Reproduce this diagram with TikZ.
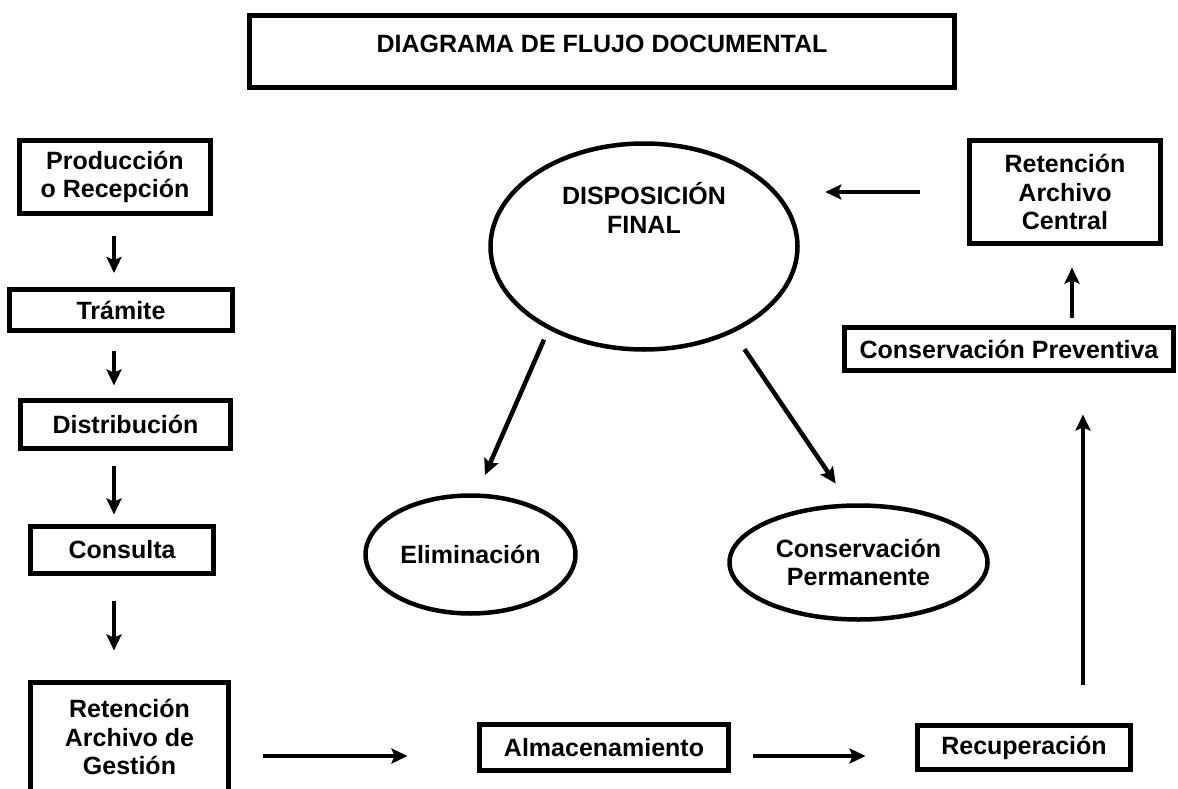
\documentclass[tikz,border=0pt]{standalone}
\usepackage{fontspec}
\setmainfont{Liberation Sans}
\usetikzlibrary{shapes.geometric,arrows.meta}

\begin{document}
\begin{tikzpicture}[x=1pt, y=-1pt,
    caja/.style={draw, line width=5pt, align=center, inner sep=0pt},
    ovalo/.style={draw, ellipse, line width=4.5pt, align=center, inner sep=0pt},
    flecha/.style={line width=4.5pt, -{Stealth[length=16pt,width=15pt,inset=3pt]}},
    font=\fontsize{25}{28.5}\selectfont\bfseries]
    \useasboundingbox (0,0) rectangle (1178,789);
    % Titulo
    \node[caja, minimum width=705pt, minimum height=72pt] (titulo) at (602,51.5) {};
    \node (titulotxt) at (602,44) {DIAGRAMA DE FLUJO DOCUMENTAL};

    % Columna izquierda
    \node[caja, minimum width=191pt, minimum height=73pt] (prod) at (115,177) {Producción\\o Recepción};
    \node[caja, minimum width=223pt, minimum height=41pt] (tram) at (121,310) {Trámite};
    \node[caja, minimum width=210pt, minimum height=48pt] (dist) at (125.5,424.5) {Distribución};
    \node[caja, minimum width=183pt, minimum height=47pt] (cons) at (122,550) {Consulta};
    \node[caja, minimum width=198pt, minimum height=109pt] (gest) at (129.5,737) {Retención\\Archivo de\\Gestión};

    % Fila de abajo y columna derecha
    \node[caja, minimum width=249pt, minimum height=46pt] (alm) at (604,747.5) {Almacenamiento};
    \node[caja, minimum width=213pt, minimum height=44pt] (recu) at (1024,747.5) {Recuperación};
    \node[caja, minimum width=329pt, minimum height=43pt] (prev) at (1009,349) {Conservación Preventiva};
    \node[caja, minimum width=191pt, minimum height=103pt] (cent) at (1065,192) {Retención\\Archivo\\Central};

    % Disposicion final
    \node[ovalo, minimum width=307pt, minimum height=206pt] (disp) at (644,246.5) {};
    \node[align=center] (disptxt) at (644,208) {DISPOSICIÓN\\FINAL};
    \node[ovalo, minimum width=210pt, minimum height=118pt] (elim) at (470.5,554.5) {Eliminación};
    \node[ovalo, minimum width=258pt, minimum height=114pt] (perm) at (858.5,562.5) {Conservación\\Permanente};

    % Flechas
    \coordinate (colx) at (114,0); \coordinate (fila) at (0,756);
    \coordinate (colr) at (1083,0); \coordinate (colc) at (1072,0);
    \foreach \ini/\fin/\si/\sf in {prod/tram/20/14, tram/dist/17.5/12.5, dist/cons/14.5/9.5, cons/gest/24.5/29.5}
        \draw[flecha, shorten <=\si pt, shorten >=\sf pt] (\ini.south -| colx) -- (\fin.north -| colx);
    \draw[flecha, shorten <=31.5pt, shorten >=69.5pt] (gest.east |- fila) -- (alm.west |- fila);
    \draw[flecha, shorten <=21.5pt, shorten >=49.5pt] (alm.east |- fila) -- (recu.west |- fila);
    \draw[flecha, shorten <=38.5pt, shorten >=41.5pt] (recu.north -| colr) -- (prev.south -| colr);
    \draw[flecha, shorten <=7.5pt, shorten >=21.5pt] (prev.north -| colc) -- (cent.south -| colc);
    \draw[flecha, shorten <=47.5pt, shorten >=25.5pt] (cent.west) -- (disp.east |- cent.west);
    \draw[flecha, shorten <=11pt, shorten >=20pt] (disp.221) -- (elim.84);
    \draw[flecha, shorten <=20pt, shorten >=24pt] (disp.316) -- (perm.99);
\end{tikzpicture}
\end{document}
